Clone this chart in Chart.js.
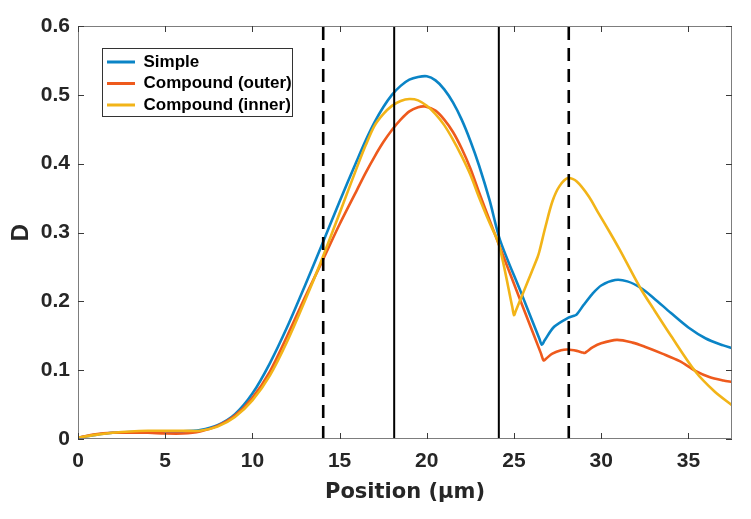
<!DOCTYPE html>
<html lang="en">
<head>
<meta charset="UTF-8">
<title>D vs Position</title>
<script src="https://cdn.jsdelivr.net/npm/chart.js@4"></script>
<style>
  body { margin: 0; background: #fff; }
</style>
</head>
<body>
<canvas id="chart" width="751" height="519"></canvas>
<script>
// values
const seriesNames = ['Simple', 'Compound (outer)', 'Compound (inner)'];

const simpleX = [0, 1, 2, 3, 4, 5, 6, 7, 8, 9, 10, 11, 12, 13, 14, 15, 16, 16.5, 17, 17.5, 18, 18.5, 19, 19.5,
  20.0, 20.5, 21.0, 21.5, 22.0, 22.5, 23.0, 23.6, 24.2, 25.4, 26.45, 26.6, 26.75, 27.3, 28.1, 28.45, 28.6,
  29.0, 29.5, 30.0, 30.8, 31.5, 32.3, 33, 34, 35, 36, 37, 37.5];
const simpleY = [0.002, 0.006, 0.009, 0.010, 0.011, 0.011, 0.011, 0.013, 0.020, 0.036,
  0.066, 0.110, 0.163, 0.222, 0.283, 0.345, 0.405, 0.434, 0.460, 0.482, 0.500, 0.513, 0.522, 0.526,
  0.527, 0.521, 0.508, 0.489, 0.464, 0.433, 0.397, 0.347, 0.289, 0.213, 0.146, 0.137, 0.143, 0.163, 0.176, 0.179, 0.181,
  0.195, 0.211, 0.223, 0.231, 0.229, 0.219, 0.205, 0.183, 0.162, 0.146, 0.136, 0.132];

const outerX = [0, 1, 2, 3, 4, 5, 6, 7, 8, 9, 10, 11, 12, 13, 14, 15, 16, 16.5, 17, 17.5, 18, 18.5, 19, 19.5,
  19.9, 20.5, 21.0, 21.5, 22.0, 22.5, 23.0, 23.6, 24.2, 25.4, 26.55, 26.7, 26.85, 27.2, 27.7, 28.1, 28.6,
  28.95, 29.05, 29.15, 29.5, 30.0, 30.9, 31.8, 32.5, 33.5, 34.5, 35.4, 36.2, 37.0, 37.5];
const outerY = [0.002, 0.007, 0.009, 0.009, 0.009, 0.008, 0.008, 0.011, 0.019, 0.034,
  0.060, 0.098, 0.150, 0.205, 0.258, 0.312, 0.362, 0.387, 0.410, 0.431, 0.449, 0.464, 0.476, 0.482,
  0.483, 0.477, 0.464, 0.446, 0.422, 0.393, 0.358, 0.318, 0.278, 0.199, 0.124, 0.114, 0.117, 0.124, 0.129, 0.130, 0.128,
  0.1255, 0.125, 0.1265, 0.133, 0.139, 0.144, 0.140, 0.134, 0.124, 0.113, 0.099, 0.090, 0.085, 0.083];

const innerX = [0, 1, 2, 3, 4, 5, 6, 7, 8, 9, 10, 11, 12, 13, 14, 15, 16, 16.5, 17, 17.5, 18, 18.5,
  19.0, 19.5, 20.0, 20.5, 21.0, 21.5, 22.0, 22.5, 23.0, 23.6, 24.14, 24.9, 25.0, 25.1, 25.6, 26.0,
  26.35, 26.45, 26.8, 27.2, 27.6, 28.1, 28.6, 29.3, 29.8, 30.5, 31.06, 32.25, 33, 34, 35.4, 36.5, 37.5];
const innerY = [0.002, 0.006, 0.009, 0.011, 0.012, 0.012, 0.012, 0.012, 0.018, 0.032,
  0.056, 0.092, 0.142, 0.200, 0.262, 0.328, 0.395, 0.427, 0.455, 0.472, 0.484, 0.491,
  0.494, 0.492, 0.484, 0.472, 0.456, 0.435, 0.411, 0.384, 0.351, 0.314, 0.282, 0.192, 0.180, 0.186, 0.217, 0.242,
  0.264, 0.272, 0.308, 0.345, 0.367, 0.379, 0.374, 0.352, 0.330, 0.300, 0.275, 0.219, 0.189, 0.150, 0.098, 0.069, 0.049];

// region boundaries (vertical lines)
const dashedLines = [14.06, 28.14];
const solidLines = [18.13, 24.13];
const yRange = [0, 0.6];
const xRange = [0, 37.5];

const colors = ['#0a84c6', '#ee5a1d', '#f2b418'];
const tickFont = { family: 'Liberation Sans', size: 21, weight: 'bold' };
const textColor = '#262626';

const pairs = (xs, ys) => xs.map((x, i) => ({ x: x, y: ys[i] }));
const vline = (x) => yRange.map(y => ({ x: x, y: y }));

const curves = [[simpleX, simpleY], [outerX, outerY], [innerX, innerY]].map((s, i) => ({
  label: seriesNames[i],
  data: pairs(s[0], s[1]),
  borderColor: colors[i],
  backgroundColor: colors[i],
  borderWidth: 2.6,
  pointRadius: 0,
  tension: 0.3,
  order: 3 - i
}));

const markers = [
  ...solidLines.map(x => ({ label: 'bound', data: vline(x), borderColor: '#000', borderWidth: 2, pointRadius: 0, order: 0 })),
  ...dashedLines.map(x => ({ label: 'bound', data: vline(x), borderColor: '#000', borderWidth: 2.6, borderDash: [13, 8], pointRadius: 0, order: 0 }))
];

// MATLAB style box with inward ticks on all four sides
const boxAxes = {
  id: 'boxAxes',
  afterDatasetsDraw(chart) {
    const { ctx, chartArea: a, scales: { x, y } } = chart;
    ctx.save();
    ctx.strokeStyle = '#7d7d7d';
    ctx.lineWidth = 1;
    ctx.strokeRect(a.left + 0.5, a.top + 0.5, a.width - 1, a.height - 1);
    ctx.strokeStyle = '#3a3a3a';
    ctx.beginPath();
    x.ticks.forEach(t => {
      const p = Math.round(x.getPixelForValue(t.value)) + 0.5;
      ctx.moveTo(p, a.bottom); ctx.lineTo(p, a.bottom - 6);
      ctx.moveTo(p, a.top); ctx.lineTo(p, a.top + 6);
    });
    y.ticks.forEach(t => {
      const p = Math.round(y.getPixelForValue(t.value)) + 0.5;
      ctx.moveTo(a.left, p); ctx.lineTo(a.left + 6, p);
      ctx.moveTo(a.right, p); ctx.lineTo(a.right - 6, p);
    });
    ctx.stroke();
    ctx.restore();
  }
};

// put the legend in the upper left corner of the plot and frame it
const legendFrame = {
  id: 'legendFrame',
  afterLayout(chart) {
    const lg = chart.legend, a = chart.chartArea;
    lg.left = a.left + 24.5;
    lg.top = a.top + 23;
    lg.right = a.right;
    lg.bottom = a.bottom;
  },
  afterDraw(chart) {
    const hb = chart.legend.legendHitBoxes;
    if (!hb || !hb.length) return;
    const l = Math.min(...hb.map(h => h.left)) - 5;
    const t = Math.min(...hb.map(h => h.top)) - 5.5;
    const r = Math.max(...hb.map(h => h.left + h.width)) + 0;
    const b = Math.max(...hb.map(h => h.top + h.height)) + 2.5;
    const ctx = chart.ctx;
    ctx.save();
    ctx.strokeStyle = '#333';
    ctx.lineWidth = 1;
    ctx.strokeRect(Math.round(l) + 0.5, Math.round(t) + 0.5, Math.round(r - l), Math.round(b - t));
    ctx.restore();
  }
};

new Chart(document.getElementById('chart'), {
  type: 'line',
  data: { datasets: [...curves, ...markers] },
  options: {
    responsive: false,
    animation: false,
    devicePixelRatio: 1,
    layout: { padding: { left: 0, top: 26, right: 19, bottom: 0 } },
    plugins: {
      tooltip: { enabled: false },
      legend: {
        position: 'chartArea',
        align: 'start',
        labels: {
          filter: item => item.datasetIndex < 3,
          sort: (a, b) => a.datasetIndex - b.datasetIndex,
          generateLabels: chart => Chart.defaults.plugins.legend.labels.generateLabels(chart)
            .map(l => Object.assign(l, { fillStyle: l.strokeStyle, lineWidth: 0 })),
          boxWidth: 28,
          boxHeight: 3,
          padding: 4.5,
          color: '#000',
          font: { family: 'Liberation Sans', size: 17, weight: 'bold', lineHeight: 1.2 }
        }
      }
    },
    scales: {
      x: {
        type: 'linear',
        min: xRange[0],
        max: xRange[1],
        grid: { display: false, drawTicks: false },
        border: { display: false },
        ticks: { stepSize: 5, includeBounds: false, padding: 10, color: textColor, font: tickFont, maxRotation: 0 },
        title: {
          display: true,
          text: 'Position (μm)',
          color: textColor,
          font: { family: 'DejaVu Sans', size: 21, weight: 'bold', lineHeight: 1.2 },
          padding: { top: 0, bottom: 14 }
        },
        afterFit: s => { s.height = 80; }
      },
      y: {
        min: yRange[0],
        max: yRange[1],
        grid: { display: false, drawTicks: false },
        border: { display: false },
        ticks: { stepSize: 0.1, padding: 8, color: textColor, font: tickFont },
        title: {
          display: true,
          text: 'D',
          color: textColor,
          font: { family: 'Liberation Sans', size: 24, weight: 'bold', lineHeight: 1.2 },
          padding: { top: 7, bottom: 0 }
        },
        afterFit: s => { s.width = 78; }
      }
    }
  },
  plugins: [boxAxes, legendFrame]
});
</script>
</body>
</html>
